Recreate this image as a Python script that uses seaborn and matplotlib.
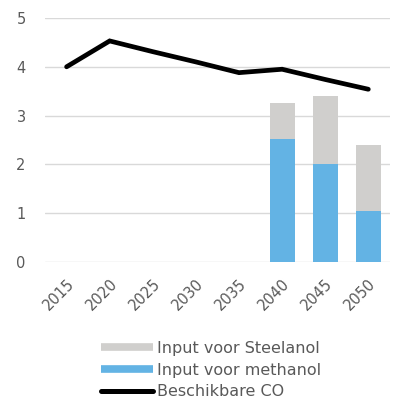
import matplotlib
matplotlib.use("Agg")
import matplotlib.pyplot as plt
import seaborn as sns
import numpy as np
import pandas as pd
from matplotlib.lines import Line2D

years = ["2015", "2020", "2025", "2030", "2035", "2040", "2045", "2050"]
methanol = [0, 0, 0, 0, 0, 2.52, 2.0, 1.04]
steelanol = [0, 0, 0, 0, 0, 0.74, 1.40, 1.36]
beschikbare_co = [4.0, 4.53, 4.31, 4.10, 3.88, 3.95, 3.74, 3.54]
yticks = [0, 1, 2, 3, 4, 5]

sns.set_theme(style="white")
plt.rcParams['font.family'] = ['DejaVu Sans']

grey = "#d0cfcd"
blue = "#63b3e4"
txt = "#595959"

df = pd.DataFrame({"year": years, "methanol": methanol, "steelanol": steelanol,
                   "co": beschikbare_co})
df["total"] = df["methanol"] + df["steelanol"]

fig = plt.figure(figsize=(3.95, 4.0), dpi=100)
ax = fig.add_axes([0.114, 0.345, 0.873, 0.61])

sns.barplot(data=df, x="year", y="total", color=grey, width=0.58, ax=ax,
            saturation=1, linewidth=0)
sns.barplot(data=df, x="year", y="methanol", color=blue, width=0.58, ax=ax,
            saturation=1, linewidth=0)
sns.lineplot(x=np.arange(len(years)), y=df["co"], color="black", linewidth=3.4,
             ax=ax, solid_joinstyle="miter")

ax.set_ylim(0, 5)
ax.set_yticks(yticks)
ax.set_xlim(-0.5, len(years) - 0.5)
ax.yaxis.grid(True, color="#d9d9d9", linewidth=1)
ax.set_axisbelow(True)
for s in ax.spines.values():
    s.set_visible(False)
ax.set_xlabel("")
ax.set_ylabel("")
ax.tick_params(axis="both", length=0, colors=txt, labelsize=10.5)
ax.tick_params(axis="y", pad=14)
ax.tick_params(axis="x", pad=10)
ax.set_xticks(range(len(years)))
ax.set_xticklabels(years, rotation=45, ha="right", rotation_mode="anchor")

handles = [Line2D([0], [0], color=grey, lw=5.5, solid_capstyle="butt"),
           Line2D([0], [0], color=blue, lw=5.5, solid_capstyle="butt"),
           Line2D([0], [0], color="black", lw=3.6, solid_capstyle="round")]
labels = ["Input voor Steelanol", "Input voor methanol", "Beschikbare CO"]
leg = fig.legend(handles, labels, loc="upper left", bbox_to_anchor=(0.255, 0.148),
                 bbox_transform=fig.transFigure, frameon=False, fontsize=11.5,
                 handlelength=3.25, handletextpad=0.3, labelspacing=0.42,
                 borderaxespad=0, borderpad=0)
for t in leg.get_texts():
    t.set_color(txt)

fig.savefig("out.png", dpi=100)
